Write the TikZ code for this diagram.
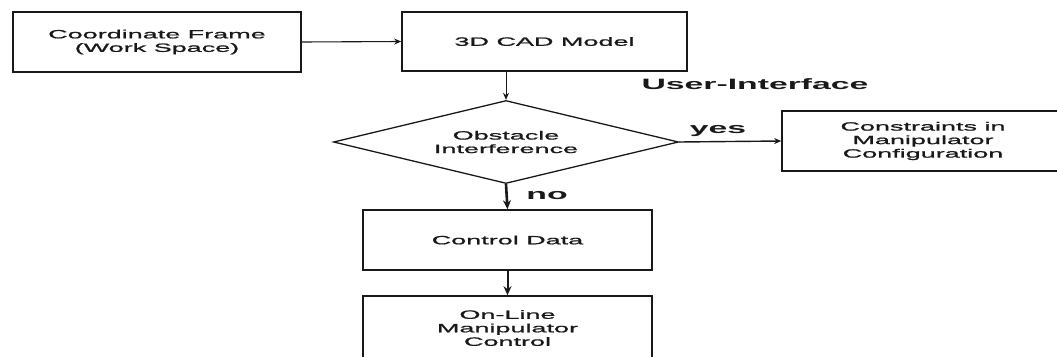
\documentclass[tikz,border=0pt]{standalone}
\usepackage{fontspec}
\setmainfont{Liberation Sans}
\newfontfamily\boxfont[FakeStretch=2.25,FakeBold=1.2]{Liberation Sans}
\newfontfamily\lblfont[FakeStretch=2.25]{Liberation Sans Bold}
\usetikzlibrary{arrows.meta,shapes.geometric}
\definecolor{ink}{RGB}{25,25,25}
\tikzset{
  flowbox/.style={draw=ink, line width=1.6pt, rectangle, inner sep=0pt, align=center,
    font=\boxfont\fontsize{12}{13.5}\selectfont, text=ink},
  decide/.style={draw=ink, line width=1.3pt, diamond, inner sep=0pt, align=center,
    font=\boxfont\fontsize{12}{13.5}\selectfont, text=ink},
  lbl/.style={font=\lblfont\fontsize{15}{17}\selectfont, text=ink, inner sep=0pt},
  arr/.style={draw=ink, -{Stealth[length=7pt,width=6pt]}},
}
\begin{document}
\begin{tikzpicture}[x=1pt,y=-1pt]
\useasboundingbox (0,0) rectangle (1057,356);
\clip (0,0) rectangle (1057,356);
\node[flowbox, minimum width=288, minimum height=60] (b1) at (157,42) {Coordinate Frame\\(Work Space)};
\node[flowbox, minimum width=285, minimum height=59] (b2) at (544.5,41.5) {3D CAD Model};
\node[decide, minimum width=345, minimum height=83, aspect=4.15] (dia) at (506,142) {Obstacle\\Interference};
\node[flowbox, minimum width=282, minimum height=60] (b3) at (923,141) {Constraints in\\Manipulator\\Configuration};
\node[flowbox, minimum width=289, minimum height=60] (b4) at (507.5,240) {Control Data};
\node[flowbox, minimum width=289, minimum height=64] (b5) at (507.5,328) {On-Line\\Manipulator\\Control};
\node[lbl] (ui) at (755,84) {User-Interface};
\node[lbl] (yes) at (718,131) {yes};
\node[lbl] (no) at (547,196) {no};
\draw[arr, line width=1.1pt] (b1.east) -- (b2.west);
\draw[arr, line width=0.9pt] (dia.north |- b2.south) -- (dia.north);
\draw[arr, line width=1.4pt] (dia.east) -- (b3.west);
\draw[arr, line width=2.6pt, -{Stealth[length=9pt,width=8pt]}] (dia.south) -- (b4.north);
\draw[arr, line width=2pt, -{Stealth[length=9pt,width=8pt]}] (b4.south) -- (b5.north);
\end{tikzpicture}
\end{document}
